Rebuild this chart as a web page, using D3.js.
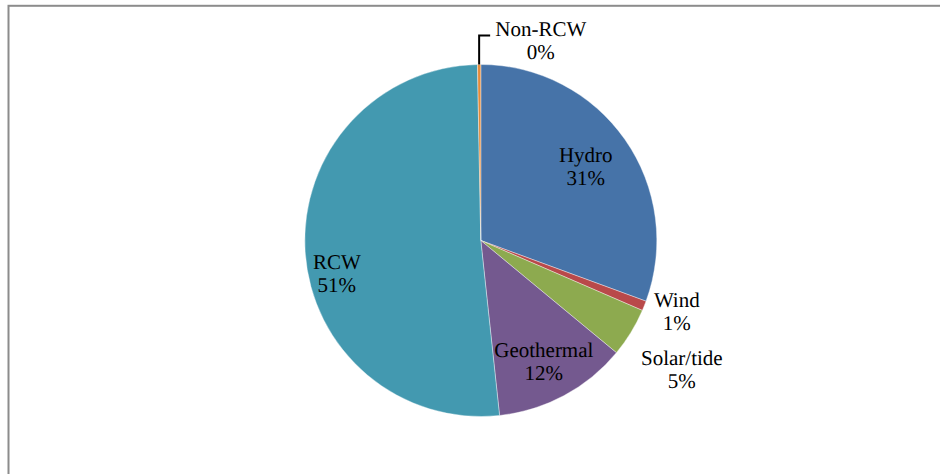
<!DOCTYPE html>
<html>
<head>
<meta charset="utf-8">
<script src="https://cdn.jsdelivr.net/npm/d3@7/dist/d3.min.js"></script>
<style>
  html, body { margin: 0; padding: 0; background: #fff; }
  svg { display: block; }
</style>
</head>
<body>
<svg id="chart" width="940" height="474"></svg>
<script>
// Share of renewable energy supply by source (percent)
const categories = ["Hydro", "Wind", "Solar/tide", "Geothermal", "RCW", "Non-RCW"];
const shares     = [30.6, 0.9, 4.5, 12.3, 51.4, 0.3];
const colors     = ["#4673a8", "#b9494a", "#8daa4f", "#74598f", "#4399b0", "#e58b3a"];

// Label anchors, as offsets from the pie centre (first line baseline)
const labelOffsets = {
  "Hydro":      [105, -79],
  "Wind":       [196, 66],
  "Solar/tide": [201, 124],
  "Geothermal": [63, 116],
  "RCW":        [-144, 28],
  "Non-RCW":    [60, -205]
};

const svg = d3.select("#chart");
const cx = 480.8, cy = 240.5, R = 176;

// chart frame
svg.append("rect")
  .attr("x", 8.5).attr("y", 5.8)
  .attr("width", 1000).attr("height", 1000)
  .attr("fill", "none")
  .attr("stroke", "#8c8c8c")
  .attr("stroke-width", 2);

const data = categories.map((c, i) => ({ name: c, value: shares[i], color: colors[i] }));
const total = d3.sum(shares);

const pie = d3.pie().value(d => d.value).sort(null);
const arc = d3.arc().innerRadius(0).outerRadius(R);
const arcs = pie(data);

const g = svg.append("g").attr("transform", `translate(${cx},${cy})`);

g.selectAll("path.slice")
  .data(arcs)
  .join("path")
  .attr("class", "slice")
  .attr("d", arc)
  .attr("fill", d => d.data.color)
  .attr("stroke", "rgba(255,255,255,0.55)")
  .attr("stroke-width", 0.7);

// leader line for the thin Non-RCW slice
const nonRcw = arcs.find(a => a.data.name === "Non-RCW");
const midA = (nonRcw.startAngle + nonRcw.endAngle) / 2;
const px = Math.sin(midA) * R, py = -Math.cos(midA) * R;
const lo = labelOffsets["Non-RCW"];
g.append("path")
  .attr("d", d3.line()([[px, py], [px, lo[1]], [px + 11, lo[1]]]))
  .attr("fill", "none")
  .attr("stroke", "#000")
  .attr("stroke-width", 2);

// category and percentage labels
const lineGap = 23;
arcs.forEach(a => {
  const off = labelOffsets[a.data.name];
  const t = g.append("text")
    .attr("text-anchor", "middle")
    .attr("font-family", "Liberation Serif")
    .attr("font-size", 21)
    .attr("text-rendering", "geometricPrecision")
    .attr("fill", "#000");
  t.append("tspan").attr("x", off[0]).attr("y", off[1]).text(a.data.name);
  t.append("tspan").attr("x", off[0]).attr("y", off[1] + lineGap)
    .text(Math.round(a.data.value / total * 100) + "%");
});
</script>
</body>
</html>
